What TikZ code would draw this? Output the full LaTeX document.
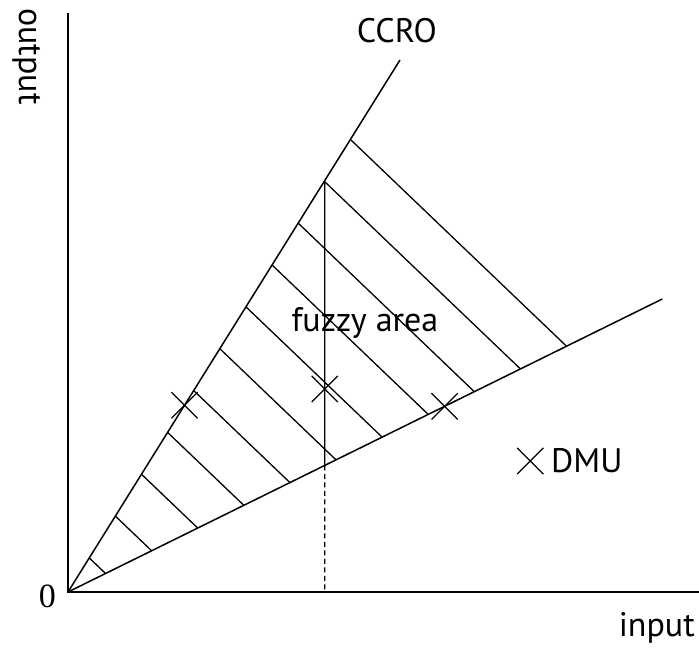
\documentclass[tikz,border=0pt]{standalone}
\usepackage{fontspec}
\newfontfamily\labelfont{PT Sans}
\newfontfamily\zerofont{Liberation Serif}
\usetikzlibrary{calc,positioning,shapes.misc}

\begin{document}
\begin{tikzpicture}[x=1pt,y=1pt,line width=1.5pt,
    lbl/.style={font=\labelfont\fontsize{34}{40}\selectfont,inner sep=0pt},
    hatch/.style={line width=1.3pt},
    dmucross/.style={draw,cross out,minimum size=25pt,inner sep=0pt,line width=1.2pt}]
  \useasboundingbox (-68,-56) rectangle (631,592);
  \coordinate (O) at (0,0);
  \coordinate (ytop) at (0,579);
  \coordinate (xend) at (631,0);
  \coordinate (ccro) at (332,532);
  \coordinate (low) at (594.3,293);
  % last hatch line runs from A on the upper ray to B on the lower ray
  \coordinate (A) at (283,452);
  \coordinate (B) at (498.3,246);
  \draw (ytop) -- (O) -- (xend);
  \draw (O) -- (ccro);
  \draw (O) -- (low);
  \foreach \k in {0,...,10} {
    \draw[hatch] ($(O)!{(21.3+26.17*\k)/283}!(A)$) -- ($(O)!{(21.3+26.17*\k)/283}!(B)$);
  }
  % projection of the apex
  \coordinate (V) at ($(O)!0.9074!(A)$);
  \coordinate (F) at (intersection of V--{V |- O} and O--low);
  \draw[hatch] (V) -- (F);
  \draw[hatch,dash pattern=on 5pt off 3.5pt] (F) -- (V |- O);
  \node[dmucross] (c1) at ($(O)!0.351!(ccro)$) {};
  \node[dmucross] (c2) at (V |- 0,203) {};
  \node[dmucross] (c3) at ($(O)!0.6337!(low)$) {};
  \node[dmucross] (dmu) at (462.3,131) {};
  \node[lbl,right=7pt of dmu] (dmulbl) {DMU};
  \node[lbl,anchor=base] (ccrolbl) at (328.8,549) {CCRO};
  \node[lbl,anchor=base] (fuzzy) at (297,260.3) {fuzzy area};
  \node[lbl,anchor=base] (inlbl) at (588.8,-45) {input};
  \node[lbl,rotate=-90] (outlbl) at (-41.7,535.5) {output};
  \node[lbl,font=\zerofont\fontsize{34}{40}\selectfont] (zero) at (-20.7,-4) {0};
\end{tikzpicture}
\end{document}
